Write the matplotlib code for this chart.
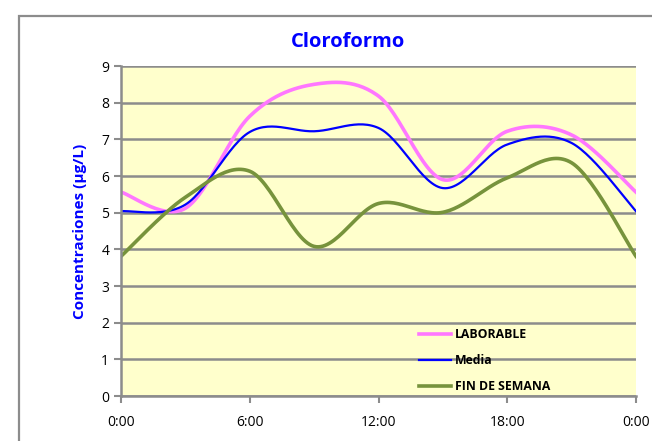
import numpy as np
import matplotlib
matplotlib.use('Agg')
import matplotlib.pyplot as plt
from matplotlib.patches import Rectangle

# datos (cada 3 horas)
horas = [0, 3, 6, 9, 12, 15, 18, 21, 24]
laborable = [5.56, 5.12, 7.63, 8.50, 8.18, 5.90, 7.22, 7.12, 5.56]
media = [5.04, 5.22, 7.20, 7.22, 7.31, 5.67, 6.86, 6.90, 5.04]
fin_semana = [3.81, 5.42, 6.13, 4.08, 5.25, 5.01, 5.95, 6.36, 3.81]

xticks = [0, 6, 12, 18, 24]
xlabels = ['0:00', '6:00', '12:00', '18:00', '0:00']


def suavizar(x, y, n=30):
    # curva suavizada tipo Excel (Bezier / Catmull-Rom)
    x = np.asarray(x, float)
    y = np.asarray(y, float)
    px = np.r_[x[0], x, x[-1]]
    py = np.r_[y[0], y, y[-1]]
    t = np.linspace(0, 1, n)
    xs, ys = [], []
    for i in range(1, len(px) - 2):
        for p, out in ((px, xs), (py, ys)):
            p0, p1, p2, p3 = p[i - 1], p[i], p[i + 1], p[i + 2]
            c1 = p1 + (p2 - p0) / 6
            c2 = p2 - (p3 - p1) / 6
            b = (1 - t)**3 * p1 + 3 * (1 - t)**2 * t * c1 + 3 * (1 - t) * t**2 * c2 + t**3 * p2
            out.extend(b if i == 1 else b[1:])
    return np.array(xs), np.array(ys)


plt.rcParams['font.family'] = ['Open Sans', 'DejaVu Sans']

fig = plt.figure(figsize=(6.52, 4.41), dpi=100)
fig.patches.append(Rectangle((19 / 652, -0.1), 1.2, 1 - 16 / 441 + 0.1,
                             transform=fig.transFigure, fill=False,
                             edgecolor='#8c8c8c', lw=1.6))
ax = fig.add_axes([121 / 652, 1 - 396 / 441, (636 - 121) / 652, (396 - 66) / 441])
ax.set_facecolor('#ffffcc')

ax.plot(*suavizar(horas, laborable), color='#ff77ff', lw=2.6, label='LABORABLE')
ax.plot(*suavizar(horas, media), color='#0000ff', lw=1.6, label='Media')
ax.plot(*suavizar(horas, fin_semana), color='#77933c', lw=2.6, label='FIN DE SEMANA')

ax.set_xlim(0, 24)
ax.set_ylim(0, 9)
ax.set_xticks(xticks)
ax.set_xticklabels(xlabels)
ax.set_yticks(range(10))
ax.yaxis.grid(True, color='#8c8c8c', lw=1.8)
ax.set_axisbelow(True)
for s in ['top', 'right']:
    ax.spines[s].set_visible(False)
for s in ['left', 'bottom']:
    ax.spines[s].set_color('#8c8c8c')
    ax.spines[s].set_linewidth(1.8)
ax.tick_params(axis='both', colors='#8c8c8c', length=5, width=1.5, labelsize=10,
               labelcolor='black')
ax.tick_params(axis='x', pad=9)

fig.text(348 / 652, 1 - 42 / 441, 'Cloroformo', color='#0000ff', fontsize=14.5,
         fontweight='bold', ha='center', va='center')
ax.set_ylabel('Concentraciones (µg/L)', color='#0000ff', fontsize=11,
              fontweight='bold', labelpad=10)

leg = ax.legend(loc='upper left', bbox_to_anchor=((413 - 121) / 515, (396 - 322) / 330),
                frameon=False, borderpad=0, handlelength=2.6, handletextpad=0.3,
                labelspacing=1.05, prop={'size': 8.8, 'weight': 'bold'})

fig.savefig('out.png', dpi=100)
